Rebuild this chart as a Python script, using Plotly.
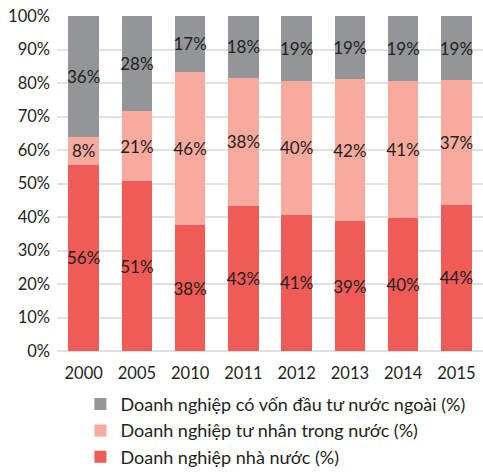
import plotly.graph_objects as go

# DATA
years = ["2000", "2005", "2010", "2011", "2012", "2013", "2014", "2015"]
state_owned = [55.6, 50.7, 37.6, 43.2, 40.6, 38.8, 39.6, 43.6]
private_domestic = [8.4, 20.9, 45.8, 38.4, 40.0, 42.4, 41.0, 37.2]
foreign_invested = [36.0, 28.4, 16.6, 18.4, 19.4, 18.8, 19.4, 19.2]

names = [
    "Doanh nghiệp nhà nước (%)",
    "Doanh nghiệp tư nhân trong nước (%)",
    "Doanh nghiệp có vốn đầu tư nước ngoài (%)",
]
colors = ["#ef5b56", "#f8aa9e", "#949599"]

fig = go.Figure()
for i, (name, vals, col) in enumerate(zip(names, [state_owned, private_domestic, foreign_invested], colors)):
    fig.add_trace(go.Bar(
        x=years, y=vals, name=name, legendgroup=f"g{i}",
        marker=dict(color=col, line=dict(width=0)),
        texttemplate="%{y:.0f}%",
        textposition="inside",
        insidetextanchor="middle",
        textangle=0,
        textfont=dict(color="#231f20", size=17),
    ))

fig.update_layout(
    width=483, height=475,
    barmode="stack", bargap=0.43,
    font=dict(family="Lato", size=16, color="#231f20"),
    plot_bgcolor="white", paper_bgcolor="white",
    margin=dict(t=16, l=57, r=0, b=124, autoexpand=False),
    uniformtext=dict(minsize=17, mode="show"),
    xaxis=dict(showgrid=False, ticks="", tickfont=dict(size=16.5),
               ticklabelstandoff=10),
    yaxis=dict(range=[0, 100], dtick=10, ticksuffix="%",
               gridcolor="#e1e1e1", gridwidth=1.5,
               zeroline=True, zerolinecolor="#e1e1e1", zerolinewidth=1.5,
               tickfont=dict(size=16.5), ticklabelstandoff=6),
    legend=dict(x=0.055, y=-0.104, xanchor="left", yanchor="top",
                traceorder="reversed", font=dict(size=18), tracegroupgap=9),
    showlegend=True,
)

# REMOVE PAGE MARGIN
fig.write_html("out.html", config={"displayModeBar": False},
               post_script="document.body.style.margin='0';")
